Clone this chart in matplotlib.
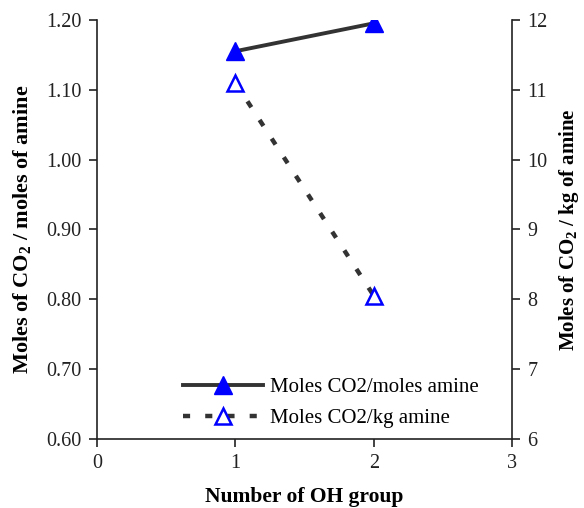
import matplotlib.pyplot as plt
from matplotlib.ticker import FormatStrFormatter

plt.rcParams['font.family'] = ['Liberation Serif', 'DejaVu Serif']
plt.rcParams['mathtext.fontset'] = 'custom'
plt.rcParams['mathtext.rm'] = 'Liberation Serif'
plt.rcParams['mathtext.bf'] = 'Liberation Serif:bold'

oh_groups = [1, 2]
co2_per_mole = [1.155, 1.195]
co2_per_kg = [11.1, 8.05]

fig = plt.figure(figsize=(5.84, 5.08), dpi=100)
ax = fig.add_axes([0.166, 0.136, 0.711, 0.825])
ax2 = ax.twinx()

l1, = ax.plot(oh_groups, co2_per_mole, color='#333333', lw=2.8,
              marker='^', ms=12.5, mfc='#0000ff', mec='#0000ff',
              label='Moles CO2/moles amine')
l2, = ax2.plot(oh_groups, co2_per_kg, color='#333333', lw=3.2,
               dashes=(1.6, 3.4), marker='^', ms=11, mfc='white',
               mec='#0000ff', mew=1.8, label='Moles CO2/kg amine')

ax.set_xlim(0, 3)
ax.set_ylim(0.60, 1.20)
ax2.set_ylim(6, 12)
ax.set_xticks([0, 1, 2, 3])
ax.set_yticks([0.6, 0.7, 0.8, 0.9, 1.0, 1.1, 1.2])
ax.yaxis.set_major_formatter(FormatStrFormatter('%.2f'))
ax2.set_yticks(range(6, 13))

for a in (ax, ax2):
    a.spines['top'].set_visible(False)
    for s in a.spines.values():
        s.set_color('#222222')
        s.set_linewidth(1.2)
    a.tick_params(direction='out', length=6, width=1.2, labelsize=14.5,
                  colors='#222222', pad=5)
ax.spines['right'].set_visible(False)
ax2.spines['left'].set_visible(False)
ax2.spines['bottom'].set_visible(False)

ax.set_xlabel('Number of OH group', fontsize=15.5, fontweight='bold', labelpad=10)
ax.set_ylabel(r'Moles of CO$_\mathbf{2}$ / moles of amine', fontsize=16,
              fontweight='bold', labelpad=9)
ax2.set_ylabel(r'Moles of CO$_\mathbf{2}$ / kg of amine', fontsize=15,
               fontweight='bold', labelpad=7)

ax.legend([l1, l2], [l1.get_label(), l2.get_label()], loc='lower left',
          bbox_to_anchor=(0.207, 0.026), borderaxespad=0, borderpad=0,
          frameon=False, fontsize=15, handlelength=3.85, handletextpad=0.35,
          labelspacing=0.55)

fig.savefig('out.png', dpi=100)
